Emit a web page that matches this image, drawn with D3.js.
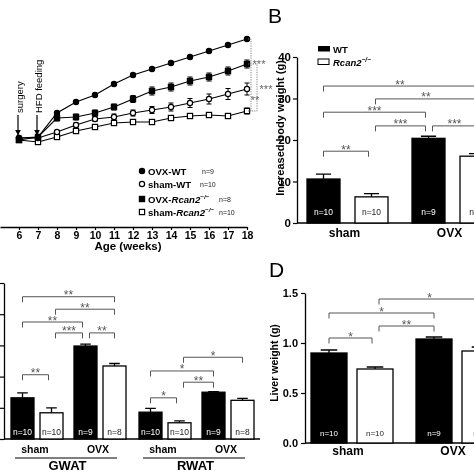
<!DOCTYPE html>
<html><head><meta charset="utf-8">
<script src="https://cdn.jsdelivr.net/npm/d3@7"></script>
<style>
html,body{margin:0;padding:0;background:#fff;}
svg{display:block;font-family:"Liberation Sans",Arial,sans-serif;opacity:0.999;will-change:transform;}
</style></head><body>
<svg id="chart" width="474" height="474"></svg>
<script>
// ---------------- Panel A data (body weight, g) ----------------
const weeks = [6,7,8,9,10,11,12,13,14,15,16,17,18];
const ovxWT     = [20.4,20.6,25.4,27.6,29.0,31.2,33.0,34.2,35.4,36.6,37.8,39.0,40.2];
const ovxWTErr  = [0.3,0.3,0.3,0.3,0.3,0.3,0.3,0.3,0.3,0.3,0.3,0.3,0.3];
const shamWT    = [20.4,20.4,21.6,23.0,24.2,24.6,25.4,26.0,26.6,27.4,28.2,29.2,30.2];
const shamWTErr = [0.3,0.3,0.3,0.4,0.5,0.6,0.6,0.7,0.8,0.9,1.0,1.1,1.2];
const ovxKO     = [20.0,20.6,24.4,24.6,25.4,26.6,28.2,29.8,30.6,31.8,32.6,33.8,35.2];
const ovxKOErr  = [0.4,0.4,0.6,0.6,0.6,0.6,0.7,0.8,0.8,0.8,0.8,0.8,0.8];
const shamKO    = [20.0,19.6,20.6,21.8,22.6,23.4,23.6,23.6,24.4,24.8,25.0,24.8,25.8];
const shamKOErr = [0.3,0.3,0.3,0.3,0.4,0.4,0.4,0.4,0.5,0.5,0.5,0.5,0.6];
const seriesPrefix = ["OVX-","sham-","OVX-","sham-"];
const seriesGeno   = ["WT","WT","Rcan2","Rcan2"];
const seriesN      = ["n=9","n=10","n=8","n=10"];

// ---------------- Bar panels data ----------------
const groups = ["sham","OVX"];
const genos  = ["WT","Rcan2"];
const tissues = ["GWAT","RWAT"];
// B: increased body weight (g)
const gainWT = [10.6,20.4], gainWTErr = [1.2,0.5];
const gainKO = [6.3,16.1],  gainKOErr = [0.8,0.6];
const nWT = ["n=10","n=9"], nKO = ["n=10","n=8"];
const bTicks = [0,10,20,30,40];
// C: fat pad weight (g)
const gwatWT = [0.66,1.49], gwatWTErr = [0.08,0.03];
const gwatKO = [0.42,1.17], gwatKOErr = [0.08,0.04];
const rwatWT = [0.43,0.75], rwatWTErr = [0.06,0.01];
const rwatKO = [0.26,0.62], rwatKOErr = [0.03,0.03];
const cTicks = [0,0.5,1,1.5,2,2.5];
// D: liver weight (g)
const liverWT = [0.90,1.04], liverWTErr = [0.03,0.02];
const liverKO = [0.74,0.92], liverKOErr = [0.02,0.04];
const dTicks = [0,0.5,1.0,1.5];
// significance brackets: [groupIdx,genoIdx] from, to, level (data units), label
const bSig = [[[0,0],[1,1],33.0,"**"],[[0,1],[1,1],29.9,"**"],[[0,0],[1,0],26.7,"***"],
              [[0,1],[1,0],23.4,"***"],[[1,0],[1,1],23.4,"***"],[[0,0],[0,1],17.3,"**"]];
const gwatSig = [[[0,0],[1,1],2.28,"**"],[[0,1],[1,1],2.08,"**"],[[0,0],[1,0],1.875,"**"],
                 [[0,1],[1,0],1.70,"***"],[[1,0],[1,1],1.70,"**"],[[0,0],[0,1],1.03,"**"]];
const rwatSig = [[[0,1],[1,1],1.31,"*"],[[0,0],[1,0],1.09,"*"],[[0,1],[1,0],0.91,"**"],[[0,0],[0,1],0.66,"*"]];
const dSig = [[[0,1],[1,1],1.44,"*"],[[0,0],[1,0],1.30,"*"],[[0,1],[1,0],1.17,"**"],[[0,0],[0,1],1.05,"*"]];

const svg = d3.select("#chart");
const defs = svg.append("defs");
defs.append("marker").attr("id","arr").attr("viewBox","0 0 10 10").attr("refX",9).attr("refY",5)
  .attr("markerWidth",6).attr("markerHeight",6).attr("orient","auto-start-reverse")
  .attr("markerUnits","userSpaceOnUse")
  .append("path").attr("d","M0,0 L10,5 L0,10 z").attr("fill","#000");

function styleAxis(g, size){
  g.select(".domain").attr("stroke","#000").attr("stroke-width",1.3);
  g.selectAll(".tick line").attr("stroke","#000").attr("stroke-width",1.2);
  g.selectAll(".tick text").attr("fill","#000").attr("font-weight","bold")
   .attr("font-size",size).attr("font-family",'"Liberation Sans",Arial,sans-serif');
}

// ================= Panel A =================
const xA = d3.scaleLinear().domain([5,18]).range([0,247]);
const yA = d3.scaleLinear().domain([20,40]).range([140,40]);
const gA = svg.append("g");
const seriesA = [
  {vals:ovxWT, err:ovxWTErr, shape:"circle", fill:"#000"},
  {vals:shamWT, err:shamWTErr, shape:"circle", fill:"#fff"},
  {vals:ovxKO, err:ovxKOErr, shape:"square", fill:"#000"},
  {vals:shamKO, err:shamKOErr, shape:"square", fill:"#fff"}
];
const line = d3.line().x((d,i)=>xA(weeks[i])).y(d=>yA(d));
seriesA.forEach(s=>{
  gA.append("path").attr("d",line(s.vals)).attr("fill","none").attr("stroke","#000").attr("stroke-width",1.2);
});
seriesA.forEach(s=>{
  s.vals.forEach((v,i)=>{
    const x = xA(weeks[i]), y1 = yA(v - s.err[i]), y2 = yA(v + s.err[i]);
    gA.append("path").attr("d",`M${x},${y1}V${y2}M${x-2.5},${y1}H${x+2.5}M${x-2.5},${y2}H${x+2.5}`)
      .attr("stroke","#000").attr("stroke-width",1).attr("fill","none");
  });
});
function marker(g, shape, fill, x, y){
  if(shape==="circle") g.append("circle").attr("cx",x).attr("cy",y).attr("r",2.6)
      .attr("fill",fill).attr("stroke","#000").attr("stroke-width",1.2);
  else g.append("rect").attr("x",x-2.6).attr("y",y-2.6).attr("width",5.2).attr("height",5.2)
      .attr("fill",fill).attr("stroke","#000").attr("stroke-width",1.2);
}
[3,2,1,0].forEach(k=>{
  const s = seriesA[k];
  s.vals.forEach((v,i)=>marker(gA, s.shape, s.fill, xA(weeks[i]), yA(v)));
});
// x axis
const axA = gA.append("g").attr("transform","translate(0,227)")
  .call(d3.axisBottom(xA).tickValues(weeks).tickSize(3).tickSizeOuter(0).tickPadding(2));
styleAxis(axA, 10.5);
gA.append("text").attr("x",128).attr("y",250).attr("text-anchor","middle")
  .attr("font-weight","bold").attr("font-size",11.5).text("Age (weeks)");
// event annotations
[[6,"surgery"],[7,"HFD feeding"]].forEach(([w,label])=>{
  const x = xA(w);
  gA.append("line").attr("x1",x-1).attr("x2",x-1).attr("y1",115).attr("y2",135)
    .attr("stroke","#000").attr("stroke-width",1.2).attr("marker-end","url(#arr)");
  gA.append("text").attr("transform",`translate(${x+3.5},113) rotate(-90)`)
    .attr("font-size",9.5).attr("fill","#000").text(label);
});
// end-point significance (week 18)
const last = weeks.length-1, xe = xA(18);
const dotted = (x,y1,y2)=>{
  gA.append("path").attr("d",`M${xe+1},${y1}H${x}V${y2}H${xe+1}`)
    .attr("fill","none").attr("stroke","#777").attr("stroke-width",0.9).attr("stroke-dasharray","1.2,1.2");
};
dotted(xe+4, yA(ovxWT[last]), yA(shamKO[last]));
dotted(xe+10, yA(ovxKO[last]), yA(shamKO[last]));
const starA = (x,y,t)=>gA.append("text").attr("x",x).attr("y",y+3.5).attr("text-anchor","middle")
  .attr("font-size",11).attr("fill","#666").text(t);
starA(xe+12, yA(ovxKO[last]), "***");
starA(xe+19, yA(shamWT[last]), "***");
starA(xe+8, (yA(shamWT[last])+yA(shamKO[last]))/2, "**");
// legend
const legRows = [171,184,199,212], nX = [202,200,219,219];
seriesA.forEach((s,k)=>{
  marker(gA, s.shape, s.fill, 142, legRows[k]);
  const t = gA.append("text").attr("x",148).attr("y",legRows[k]+3.5).attr("font-size",9.6).attr("font-weight","bold");
  t.append("tspan").text(seriesPrefix[k]);
  if(seriesGeno[k]==="WT") t.append("tspan").text("WT");
  else { t.append("tspan").attr("font-style","italic").text("Rcan2");
         t.append("tspan").attr("font-size",6.2).attr("dy",-4).attr("font-style","italic").text("−/−"); }
  gA.append("text").attr("x",nX[k]).attr("y",legRows[k]+3).attr("font-size",7).attr("fill","#222").text(seriesN[k]);
});

// ================= helpers for bar panels =================
function drawBars(g, cells, bw, y, nY, nSize){
  cells.forEach(c=>{
    const x0 = c.cx - bw/2;
    g.append("rect").attr("x",x0).attr("y",y(c.v)).attr("width",bw).attr("height",y(0)-y(c.v))
      .attr("fill",c.wt?"#000":"#fff").attr("stroke","#000").attr("stroke-width",1.3);
    const yt = y(c.v+c.e), cw = bw*0.23;
    g.append("path").attr("d",`M${c.cx},${y(c.v)}V${yt}M${c.cx-cw},${yt}H${c.cx+cw}`)
      .attr("stroke","#000").attr("stroke-width",1.3).attr("fill","none");
    g.append("text").attr("x",c.cx).attr("y",nY).attr("text-anchor","middle")
      .attr("font-size",nSize).attr("fill",c.wt?"#fff":"#222").text(c.n);
  });
}
function drawSig(g, list, pos, y){
  const key = p=>p.join("-");
  const rights = new Set(list.map(d=>key(d[1])));
  const lefts  = new Set(list.map(d=>key(d[0])));
  list.forEach(d=>{
    const x1 = pos(d[0]) + (rights.has(key(d[0]))?4:0);
    const x2 = pos(d[1]) - (lefts.has(key(d[1]))?3:0);
    const yy = y(d[2]);
    g.append("path").attr("d",`M${x1},${yy+5.5}V${yy}H${x2}V${yy+5.5}`)
      .attr("fill","none").attr("stroke","#555").attr("stroke-width",1);
    g.append("text").attr("x",(x1+x2)/2).attr("y",yy+2.5).attr("text-anchor","middle")
      .attr("font-size",12).attr("fill","#555").text(d[3]);
  });
}

// ================= Panel B =================
const gB = svg.append("g");
gB.append("text").attr("x",268).attr("y",23).attr("font-size",21).text("B");
const yB = d3.scaleLinear().domain([0,40]).range([223,57]);
const xBo = d3.scaleBand().domain(groups).range([307,493]).paddingInner(24/105).paddingOuter(0);
const xBi = d3.scaleBand().domain(genos).range([0,81]).paddingInner(15/48).paddingOuter(0);
const cB = p => xBo(groups[p[0]]) + xBi(genos[p[1]]) + xBi.bandwidth()/2;
const axB = gB.append("g").attr("transform","translate(297,0)")
  .call(d3.axisLeft(yB).tickValues(bTicks).tickSize(4).tickSizeOuter(0).tickPadding(2));
styleAxis(axB, 11.5);
gB.append("line").attr("x1",297).attr("x2",474).attr("y1",yB(0)).attr("y2",yB(0)).attr("stroke","#000").attr("stroke-width",1.3);
const cellsB = [];
groups.forEach((gr,i)=>{
  cellsB.push({cx:cB([i,0]), v:gainWT[i], e:gainWTErr[i], n:nWT[i], wt:true});
  cellsB.push({cx:cB([i,1]), v:gainKO[i], e:gainKOErr[i], n:nKO[i], wt:false});
});
drawBars(gB, cellsB, xBi.bandwidth(), yB, 215, 8.5);
drawSig(gB, bSig, cB, yB);
groups.forEach(gr=>{
  gB.append("text").attr("x",xBo(gr)+xBo.bandwidth()/2-3).attr("y",237).attr("text-anchor","middle")
    .attr("font-weight","bold").attr("font-size",12).text(gr);
});
gB.append("text").attr("transform","translate(284,128) rotate(-90)").attr("text-anchor","middle")
  .attr("font-weight","bold").attr("font-size",11).text("Increased body weight (g)");
// legend
gB.append("rect").attr("x",318).attr("y",46).attr("width",12).attr("height",5.5).attr("fill","#000");
gB.append("text").attr("x",333).attr("y",52.5).attr("font-weight","bold").attr("font-size",9.5).text("WT");
gB.append("rect").attr("x",318).attr("y",59).attr("width",11).attr("height",5.5).attr("fill","#fff").attr("stroke","#000").attr("stroke-width",1);
const lgK = gB.append("text").attr("x",333).attr("y",65.5).attr("font-weight","bold").attr("font-size",9.5);
lgK.append("tspan").attr("font-style","italic").text("Rcan2");
lgK.append("tspan").attr("font-size",6.5).attr("dy",-4).attr("font-style","italic").text("−/−");

// ================= Panel C =================
const gC = svg.append("g");
const yC = d3.scaleLinear().domain([0,2.5]).range([439,283]);
const xCt = d3.scaleBand().domain(tissues).range([11,254]).paddingInner(13/128).paddingOuter(0);
const xCc = d3.scaleBand().domain(groups).range([0,115]).paddingInner(11/63).paddingOuter(0);
const xCg = d3.scaleBand().domain(genos).range([0,52]).paddingInner(6/29).paddingOuter(0);
const cC = (t) => p => xCt(tissues[t]) + xCc(groups[p[0]]) + xCg(genos[p[1]]) + xCg.bandwidth()/2;
const axC = gC.append("g").attr("transform","translate(4,0)")
  .call(d3.axisLeft(yC).tickValues(cTicks).tickSize(4).tickSizeOuter(0).tickFormat(""));
styleAxis(axC, 10);
gC.append("line").attr("x1",4).attr("x2",260).attr("y1",yC(0)).attr("y2",yC(0)).attr("stroke","#000").attr("stroke-width",1.3);
const fatWT = [gwatWT, rwatWT], fatWTErr = [gwatWTErr, rwatWTErr];
const fatKO = [gwatKO, rwatKO], fatKOErr = [gwatKOErr, rwatKOErr];
tissues.forEach((t,ti)=>{
  const pos = cC(ti), cells = [];
  groups.forEach((gr,i)=>{
    cells.push({cx:pos([i,0]), v:fatWT[ti][i], e:fatWTErr[ti][i], n:nWT[i], wt:true});
    cells.push({cx:pos([i,1]), v:fatKO[ti][i], e:fatKOErr[ti][i], n:nKO[i], wt:false});
  });
  drawBars(gC, cells, xCg.bandwidth(), yC, 435, 8.5);
  drawSig(gC, ti===0?gwatSig:rwatSig, pos, yC);
  groups.forEach(gr=>{
    gC.append("text").attr("x",xCt(t)+xCc(gr)+xCc.bandwidth()/2-2).attr("y",453).attr("text-anchor","middle")
      .attr("font-weight","bold").attr("font-size",10.5).text(gr);
  });
  gC.append("line").attr("x1",xCt(t)+4).attr("x2",xCt(t)+xCt.bandwidth()-9).attr("y1",458).attr("y2",458)
    .attr("stroke","#000").attr("stroke-width",1.2);
  gC.append("text").attr("x",xCt(t)+xCt.bandwidth()/2-1).attr("y",469.5).attr("text-anchor","middle")
    .attr("font-weight","bold").attr("font-size",13).text(t);
});

// ================= Panel D =================
const gD = svg.append("g");
gD.append("text").attr("x",269).attr("y",277).attr("font-size",21).text("D");
const yD = d3.scaleLinear().domain([0,1.5]).range([443,293]);
const xDo = d3.scaleBand().domain(groups).range([311,498]).paddingInner(23/105).paddingOuter(0);
const xDi = d3.scaleBand().domain(genos).range([0,82]).paddingInner(10/46).paddingOuter(0);
const cD = p => xDo(groups[p[0]]) + xDi(genos[p[1]]) + xDi.bandwidth()/2;
const axD = gD.append("g").attr("transform","translate(305,0)")
  .call(d3.axisLeft(yD).tickValues(dTicks).tickSize(4).tickSizeOuter(0).tickPadding(3).tickFormat(d3.format(".1f")));
styleAxis(axD, 11);
gD.append("line").attr("x1",305).attr("x2",474).attr("y1",yD(0)).attr("y2",yD(0)).attr("stroke","#000").attr("stroke-width",1.3);
const cellsD = [];
groups.forEach((gr,i)=>{
  cellsD.push({cx:cD([i,0]), v:liverWT[i], e:liverWTErr[i], n:nWT[i], wt:true});
  cellsD.push({cx:cD([i,1]), v:liverKO[i], e:liverKOErr[i], n:nKO[i], wt:false});
});
drawBars(gD, cellsD, xDi.bandwidth(), yD, 436, 8);
drawSig(gD, dSig, cD, yD);
groups.forEach(gr=>{
  gD.append("text").attr("x",xDo(gr)+xDo.bandwidth()/2-4).attr("y",455).attr("text-anchor","middle")
    .attr("font-weight","bold").attr("font-size",12).text(gr);
});
gD.append("text").attr("transform","translate(278,363) rotate(-90)").attr("text-anchor","middle")
  .attr("font-weight","bold").attr("font-size",10.5).text("Liver weight (g)");
</script>
</body></html>
